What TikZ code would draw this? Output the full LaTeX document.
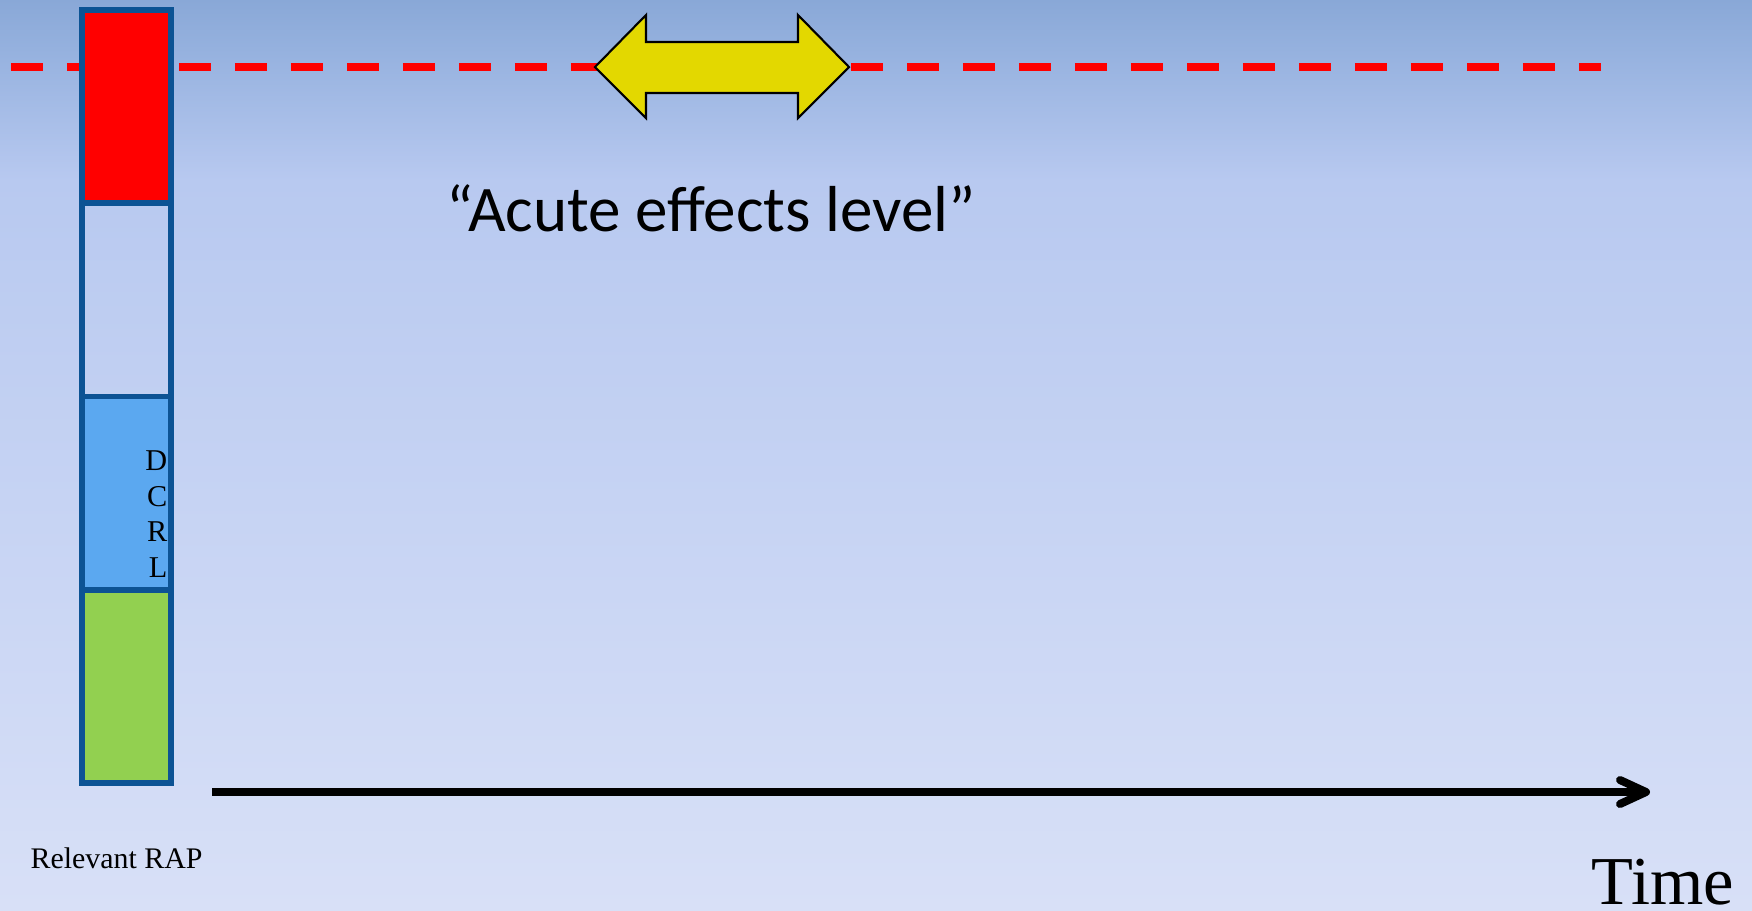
\documentclass[tikz,border=0pt]{standalone}
\usepackage{fontspec}
\setmainfont{Liberation Serif}
\newfontfamily\calib{Carlito}
\usetikzlibrary{arrows.meta}
\definecolor{bgtop}{RGB}{137,168,215}
\definecolor{bgup}{RGB}{152,179,224}
\definecolor{bgmid}{RGB}{184,201,240}
\definecolor{bgbot}{RGB}{216,224,247}
\definecolor{barblue}{RGB}{12,83,148}
\definecolor{segblue}{RGB}{91,168,240}
\definecolor{seggreen}{RGB}{146,208,80}
\definecolor{arrowyellow}{RGB}{227,216,0}
\pgfdeclareverticalshading{bgsh}{100bp}{color(0bp)=(bgbot); color(25bp)=(bgbot); color(65.1bp)=(bgmid); color(71.7bp)=(bgup); color(75bp)=(bgtop); color(100bp)=(bgtop)}
\begin{document}
\begin{tikzpicture}[x=0.1mm,y=-0.1mm,
  seg/.style={draw=barblue, line width=0.55mm, minimum width=8.9mm, minimum height=19.325mm, inner sep=0, outer sep=0},
  dashline/.style={red, line width=0.8mm, dash pattern=on 3.2mm off 2.4mm},
  timeline/.style={black, line width=0.8mm, -{Straight Barb[length=2.6mm, width=2.4mm, round]}}]
\useasboundingbox (0,0) rectangle (1752,910);
\fill[shading=bgsh] (0,0) rectangle (1752,910);
% dashed acute effects level line
\coordinate (dl) at (11,67);
\coordinate (dr) at (1601,67);
\draw[dashline] (dl) -- (dr);
% yellow double arrow
\draw[fill=arrowyellow, draw=black, line width=0.6pt, line join=miter]
  (595,67) -- (646,15) -- (646,42) -- (798,42) -- (798,15) -- (849,67)
  -- (798,118) -- (798,93) -- (646,93) -- (646,118) -- cycle;
% bar
\node[seg, fill=red] (red) at (126.5,106.6) {};
\node[seg] (white) at (126.5,299.9) {};
\node[seg, fill=segblue] (blue) at (126.5,493.1) {};
\node[seg, fill=seggreen] (green) at (126.5,686.4) {};
\node[anchor=north east, align=right, inner sep=0, font=\fontsize{8.6pt}{10.1pt}\selectfont] (dcrl) at (168,450) {D\\C\\R\\L};
% texts
\node[anchor=base, inner sep=0, font=\calib\fontsize{18.5pt}{22pt}\selectfont] (acute) at (711,231) {“Acute effects level”};
\node[anchor=base west, inner sep=0, font=\fontsize{8.5pt}{10pt}\selectfont] (rap) at (30,868) {Relevant RAP};
\node[anchor=base west, inner sep=0, font=\fontsize{19.5pt}{22pt}\selectfont] (time) at (1591,904) {Time};
% time axis
\coordinate (t0) at (212,792);
\coordinate (t1) at (1650,792);
\draw[timeline] (t0) -- (t1);
\end{tikzpicture}
\end{document}
